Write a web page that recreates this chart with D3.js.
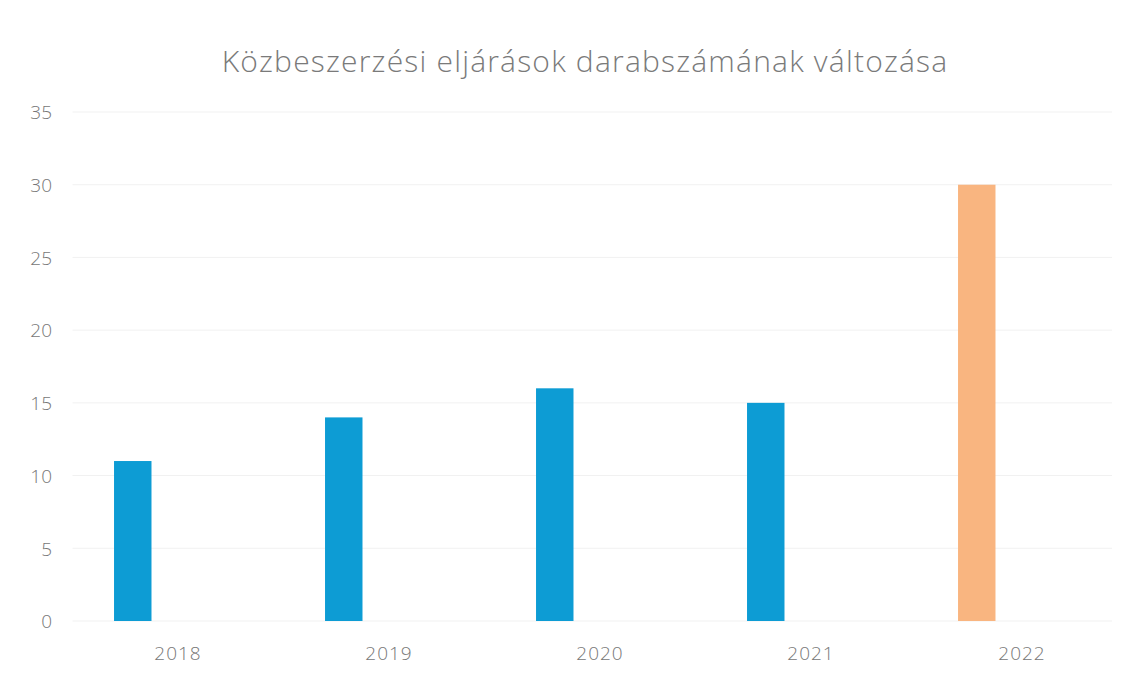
<!DOCTYPE html>
<html><head><meta charset="utf-8">
<script src="https://cdn.jsdelivr.net/npm/d3@7"></script>
<style>html,body{margin:0;padding:0;background:#fff;}svg{display:block;}</style>
</head><body>
<svg id="chart" width="1144" height="675"></svg>
<script>
const title = "Közbeszerzési eljárások darabszámának változása";
const categories = ["2018", "2019", "2020", "2021", "2022"];
const values = [11, 14, 16, 15, 30];
const barColors = ["#0d9cd4", "#0d9cd4", "#0d9cd4", "#0d9cd4", "#f9b580"];
const yTicks = [0, 5, 10, 15, 20, 25, 30, 35];

const svg = d3.select("#chart");
const W = 1144, H = 675;
const m = {left: 72.5, right: 16.5, top: 112, bottom: 54};

const x = d3.scaleBand().domain(categories).range([m.left, W - m.right]).paddingInner(0).paddingOuter(0);
const y = d3.scaleLinear().domain([0, 35]).range([H - m.bottom, m.top]);

// gridlines
svg.append("g").selectAll("line").data(yTicks).join("line")
  .attr("x1", m.left).attr("x2", 1112)
  .attr("y1", d => y(d)).attr("y2", d => y(d))
  .attr("stroke", "#f1f1f1").attr("stroke-width", 1);

// y axis
const yAxis = d3.axisLeft(y).tickValues(yTicks).tickSize(0).tickPadding(0);
const gy = svg.append("g").attr("transform", `translate(${52},0)`).call(yAxis);
gy.select(".domain").remove();
gy.selectAll("text").attr("font-family", "Open Sans").attr("font-size", 19)
  .attr("fill", "#777").attr("font-weight", 300).attr("dy", "0.36em");

// x axis
const xAxis = d3.axisBottom(x).tickSize(0).tickPadding(0);
const gx = svg.append("g").attr("transform", `translate(0,${H - m.bottom})`).call(xAxis);
gx.select(".domain").remove();
gx.selectAll("text").attr("font-family", "Open Sans").attr("font-size", 19)
  .attr("fill", "#777").attr("font-weight", 300).attr("letter-spacing", 1)
  .attr("dy", 0).attr("y", 39);

// bars: first series slot within each category band (second series empty)
const sub = d3.scaleBand().domain(["s1", "s2"]).range([0, x.bandwidth()])
  .paddingInner(0.586).paddingOuter(0.459);
svg.append("g").selectAll("rect").data(categories).join("rect")
  .attr("x", d => x(d) + sub("s1"))
  .attr("width", sub.bandwidth())
  .attr("y", (d, i) => y(values[i]))
  .attr("height", (d, i) => y(0) - y(values[i]))
  .attr("fill", (d, i) => barColors[i]);

// title
svg.append("text").attr("x", 585).attr("y", 72).attr("text-anchor", "middle")
  .attr("font-family", "Open Sans").attr("font-weight", 300).attr("font-size", 30)
  .attr("letter-spacing", 1.2)
  .attr("fill", "#7a7a7a").text(title);
</script>
</body></html>
